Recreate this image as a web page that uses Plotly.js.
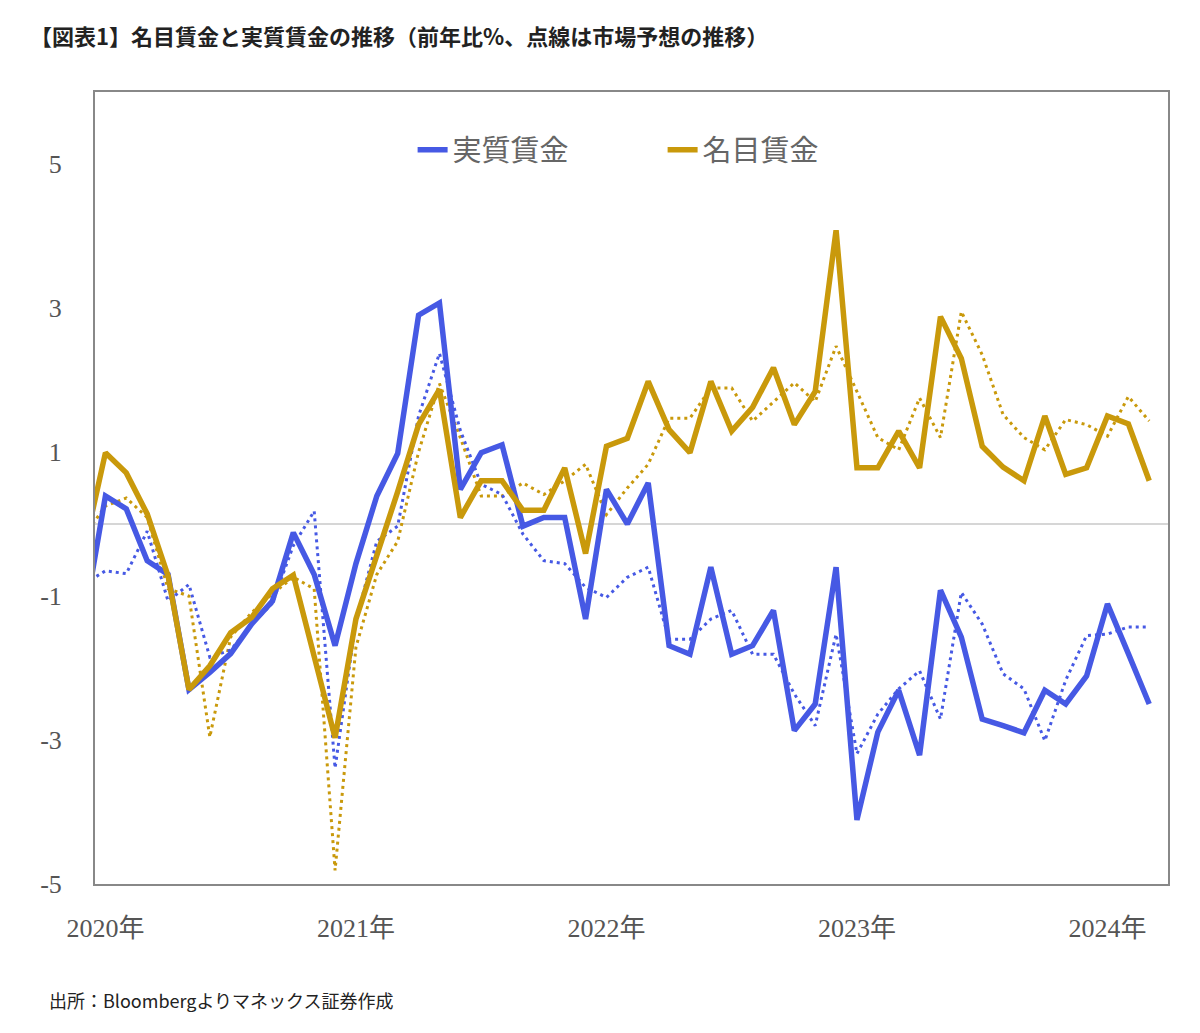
<!DOCTYPE html>
<html>
<head>
<meta charset="utf-8">
<script src="https://cdn.plot.ly/plotly-3.0.1.min.js"></script>
<style>
  body { margin: 0; background: #fff; }
  #chart { width: 1200px; height: 1033px; }
</style>
</head>
<body>
<div id="chart"></div>
<script>
// 2019-12 .. 2024-03, monthly, 前年比%
var months = [];
for (var yr = 2019; yr <= 2024; yr++) {
    for (var m = 1; m <= 12; m++) {
        if (yr === 2019 && m < 12) continue;
        if (yr === 2024 && m > 3) break;
        months.push(yr + '-' + (m < 10 ? '0' + m : m));
    }
}

var realWage = [
    -1.30,
    0.39, 0.21, -0.51, -0.70, -2.30, -2.06, -1.80, -1.39, -1.07, -0.12, -0.70, -1.69,
    -0.55, 0.39, 0.98, 2.90, 3.07, 0.48, 0.99, 1.10, -0.03, 0.09, 0.09, -1.32,
    0.48, 0.00, 0.57, -1.69, -1.81, -0.60, -1.81, -1.69, -1.20, -2.87, -2.50, -0.60,
    -4.11, -2.89, -2.31, -3.21, -0.92, -1.57, -2.71, -2.80, -2.90, -2.31, -2.50, -2.11,
    -1.11, -1.80, -2.50
];
var nominalWage = [
    -0.32,
    0.99, 0.71, 0.14, -0.72, -2.30, -1.97, -1.51, -1.30, -0.90, -0.71, -1.84, -2.97,
    -1.32, -0.45, 0.45, 1.38, 1.87, 0.09, 0.60, 0.60, 0.19, 0.19, 0.78, -0.41,
    1.08, 1.19, 1.98, 1.31, 0.99, 1.98, 1.29, 1.62, 2.17, 1.38, 1.84, 4.08,
    0.78, 0.78, 1.29, 0.78, 2.88, 2.30, 1.08, 0.79, 0.60, 1.50, 0.69, 0.78,
    1.50, 1.39, 0.60
];
var realForecast = [
    -0.83,
    -0.65, -0.69, -0.10, -1.07, -0.84, -1.85, -1.75, -1.40, -1.10, -0.30, 0.18, -3.39,
    -1.34, -0.24, -0.03, 1.50, 2.37, 1.30, 0.55, 0.41, -0.14, -0.51, -0.55, -0.88,
    -1.02, -0.74, -0.60, -1.60, -1.60, -1.32, -1.20, -1.81, -1.81, -2.36, -2.80, -1.53,
    -3.19, -2.64, -2.29, -2.04, -2.71, -0.95, -1.39, -2.08, -2.29, -3.01, -2.17, -1.55,
    -1.53, -1.43, -1.43
];
var nominalForecast = [
    -0.16,
    0.25, 0.36, 0.09, -0.90, -1.00, -2.96, -1.57, -1.23, -0.97, -0.74, -0.90, -4.81,
    -1.71, -0.70, -0.24, 1.00, 1.95, 1.20, 0.39, 0.39, 0.57, 0.41, 0.60, 0.83,
    0.13, 0.50, 0.83, 1.47, 1.47, 1.89, 1.89, 1.43, 1.70, 1.96, 1.70, 2.47,
    1.84, 1.20, 1.03, 1.75, 1.20, 2.95, 2.35, 1.52, 1.20, 1.03, 1.45, 1.38,
    1.22, 1.77, 1.43
];
var yearTicks = ['2020-01', '2021-01', '2022-01', '2023-01', '2024-01'];
var yearLabels = ['2020年', '2021年', '2022年', '2023年', '2024年'];
var yTicks = [5, 3, 1, -1, -3, -5];
var yLabels = ['5', '3', '1', '-1', '-3', '-5'];

var BLUE = '#4659e4';
var GOLD = '#c9990b';

var x = months.map(function (d, i) { return i; });
var tickIdx = yearTicks.map(function (t) { return months.indexOf(t); });
// boundaries between Dec and Jan, drawn on the zero line
var boundIdx = tickIdx.slice(1).map(function (i) { return i - 0.5; });

var traces = [
    { x: x, y: nominalForecast, type: 'scatter', mode: 'lines', showlegend: false,
      line: { color: GOLD, width: 3, dash: '3px,4px' }, hoverinfo: 'skip' },
    { x: x, y: realForecast, type: 'scatter', mode: 'lines', showlegend: false,
      line: { color: BLUE, width: 3, dash: '3px,4px' }, hoverinfo: 'skip' },
    { x: x, y: realWage, type: 'scatter', mode: 'lines', name: '実質賃金', legendrank: 1,
      line: { color: BLUE, width: 5.5 } },
    { x: x, y: nominalWage, type: 'scatter', mode: 'lines', name: '名目賃金', legendrank: 2,
      line: { color: GOLD, width: 5.5 } }
];

var xr = [0.5, 51.9];

var layout = {
    width: 1200,
    height: 1033,
    margin: { l: 95, r: 32, t: 92, b: 149 },
    paper_bgcolor: '#fff',
    plot_bgcolor: '#fff',
    font: { family: '"Liberation Serif", "Noto Sans CJK JP", serif', color: '#555' },
    title: {
        text: '<b>【図表1】名目賃金と実質賃金の推移（前年比%、点線は市場予想の推移）</b>',
        xref: 'container', yref: 'container',
        x: 0.025, xanchor: 'left', y: 1 - 37 / 1033, yanchor: 'middle',
        font: { family: '"Noto Sans CJK JP", sans-serif', size: 22, color: '#222' }
    },
    xaxis: {
        range: xr,
        tickmode: 'array',
        tickvals: tickIdx,
        ticktext: yearLabels,
        ticks: 'outside', ticklen: 20, tickcolor: 'rgba(0,0,0,0)',
        tickfont: { size: 26, color: '#555' },
        showgrid: false, zeroline: false,
        showline: true, mirror: true, linecolor: '#888', linewidth: 2
    },
    xaxis2: {
        overlaying: 'x', anchor: 'free', position: 5 / 11,
        range: xr,
        tickmode: 'array', tickvals: boundIdx,
        ticks: 'outside', ticklen: 9, tickwidth: 2, tickcolor: '#d4d4d4',
        showticklabels: false, showgrid: false, zeroline: false, showline: false
    },
    yaxis: {
        range: [-5, 6],
        tickmode: 'array',
        tickvals: yTicks,
        ticktext: yLabels,
        ticks: 'outside', ticklen: 26, tickcolor: 'rgba(0,0,0,0)',
        tickfont: { size: 26, color: '#555' },
        showgrid: false,
        zeroline: true, zerolinecolor: '#d6d6d6', zerolinewidth: 2,
        showline: true, mirror: true, linecolor: '#888', linewidth: 2
    },
    legend: {
        orientation: 'h',
        x: 0.296, xanchor: 'left',
        y: 0.927, yanchor: 'middle',
        font: { family: '"Noto Sans CJK JP", sans-serif', size: 29, color: '#666' },
        entrywidth: 205,
        bgcolor: 'rgba(0,0,0,0)'
    },
    annotations: [{
        text: '出所：Bloombergよりマネックス証券作成',
        xref: 'paper', yref: 'paper',
        x: -0.045, xanchor: 'left',
        y: -0.146, yanchor: 'middle',
        showarrow: false,
        font: { family: '"Noto Sans CJK JP", sans-serif', size: 18, color: '#222' }
    }]
};

Plotly.newPlot('chart', traces, layout, { displayModeBar: false, staticPlot: true });
</script>
</body>
</html>
